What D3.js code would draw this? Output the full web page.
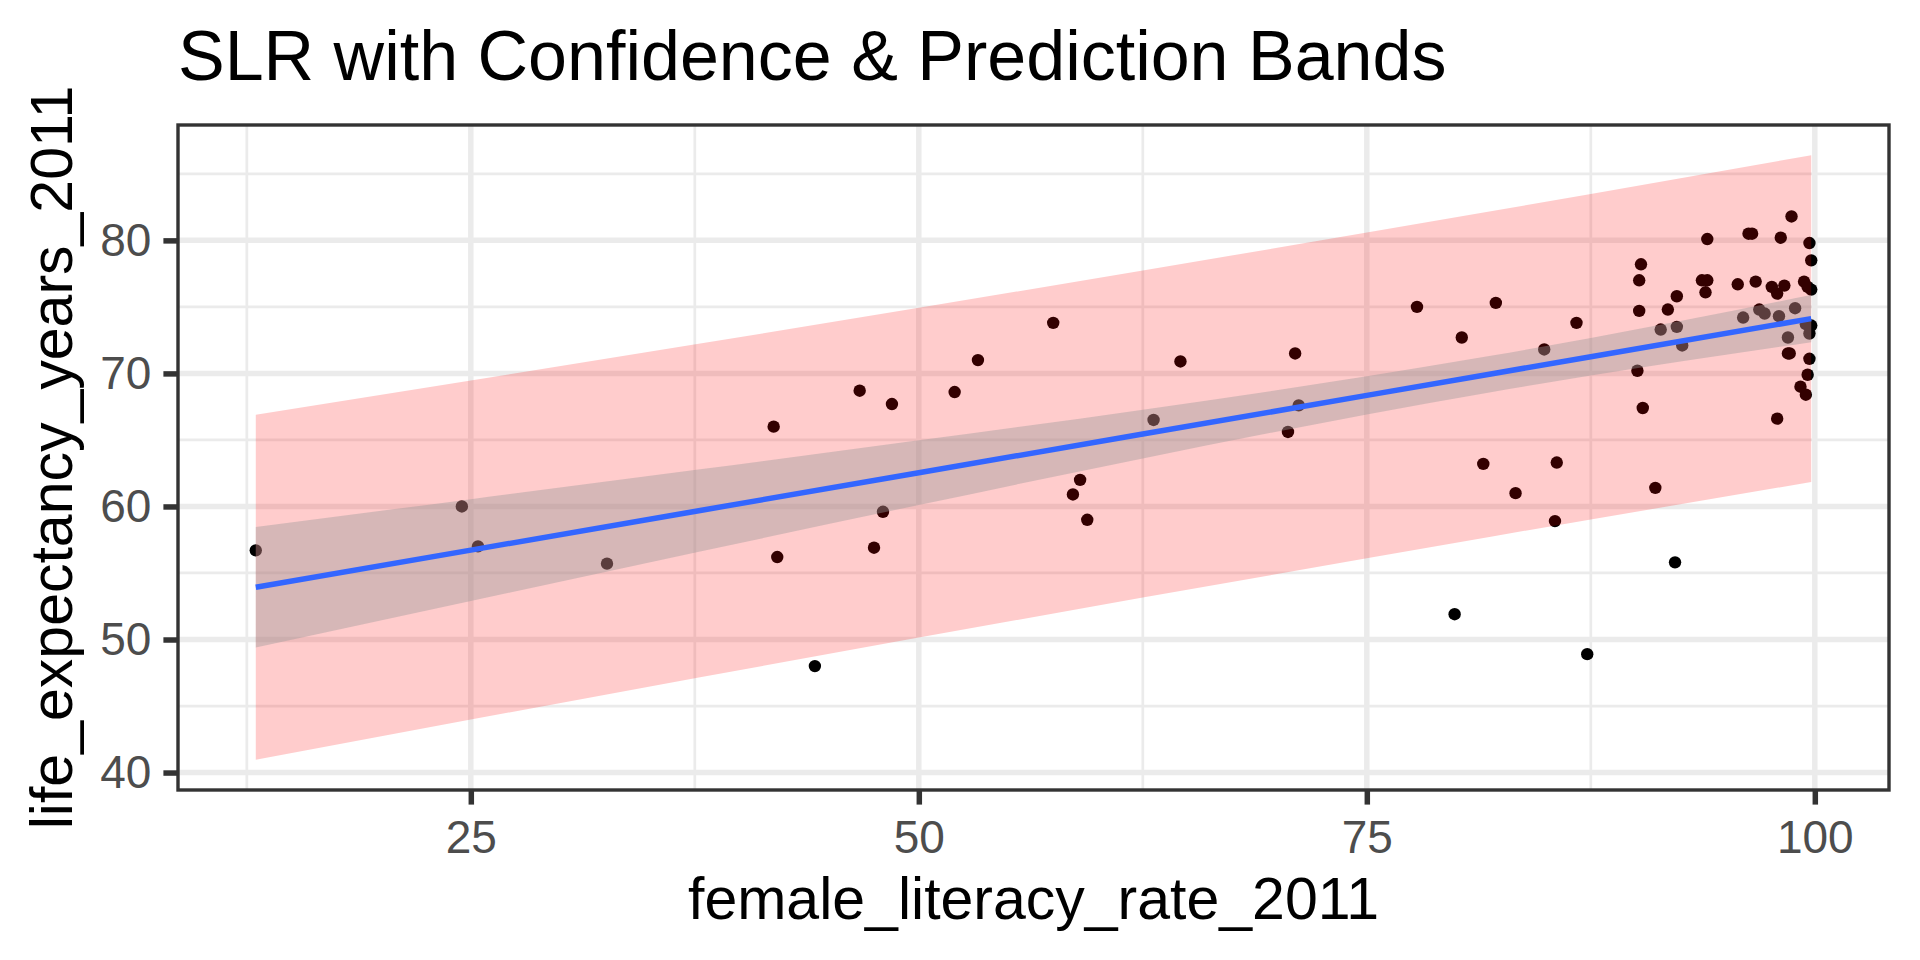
<!DOCTYPE html>
<html>
<head>
<meta charset="utf-8">
<script src="https://cdn.jsdelivr.net/npm/d3@7"></script>
<style>
  body { margin: 0; background: #fff; }
  text { font-family: 'Liberation Sans', Arial, Helvetica, sans-serif; }
</style>
</head>
<body>
<svg id="chart" width="1920" height="960"></svg>
<script>
// points: female literacy vs life expectancy (2011)
const literacy = [13.0, 24.5, 25.4, 32.6, 41.9, 42.1, 44.2, 46.7, 47.5, 48.0,
  48.5, 52.0, 53.3, 57.5, 58.6, 59.0, 59.4, 63.1, 64.6, 70.6,
  71.0, 71.2, 77.8, 79.9, 80.3, 81.5, 82.2, 83.3, 84.9, 85.6,
  85.5, 86.7, 87.3, 90.2, 90.1, 90.2, 90.3, 90.4, 91.1, 91.4,
  91.8, 92.2, 92.3, 92.3, 92.6, 93.7, 94.0, 93.9, 94.0, 95.7,
  96.0, 96.3, 96.5, 96.7, 96.9, 97.2, 97.6, 97.9, 97.9, 98.0,
  98.1, 98.3, 98.5, 98.5, 98.6, 98.7, 98.9, 99.2, 99.5, 99.6,
  99.7, 99.7, 99.8, 99.4, 99.6, 99.8, 99.8, 99.7, 99.5];
const lifeExp = [56.7, 60.0, 57.0, 55.7, 66.0, 56.2, 48.0, 68.7, 56.9, 59.6,
  67.7, 68.6, 71.0, 73.8, 60.9, 62.0, 59.0, 66.5, 70.9, 65.6,
  71.5, 67.6, 75.0, 51.9, 72.7, 63.2, 75.3, 61.0, 71.8, 63.3,
  58.9, 73.8, 48.9, 74.7, 70.2, 77.0, 78.2, 67.4, 61.4, 73.3,
  74.8, 55.8, 73.5, 75.8, 72.1, 77.0, 77.0, 76.1, 80.1, 76.7,
  74.2, 80.5, 80.5, 76.9, 74.8, 74.5, 76.5, 76.0, 66.6, 74.3,
  80.2, 76.6, 72.7, 71.5, 71.5, 81.8, 74.9, 69.0, 68.4, 69.9,
  71.1, 79.8, 78.5, 76.9, 76.5, 76.3, 73.6, 73.0, 73.7];

// fitted line with confidence and prediction bands, read at these x values
const bandX  = [13.0, 25, 37.8, 50, 62.5, 75, 82, 87.5, 99.8];
const fitY   = [53.93, 56.72, 59.70, 62.54, 65.44, 68.35, 69.98, 71.25, 74.12];
const ciLow  = [49.40, 52.89, 56.61, 60.11, 63.61, 66.92, 68.61, 69.84, 72.35];
const ciHigh = [58.46, 60.55, 62.79, 64.97, 67.27, 69.78, 71.34, 72.66, 75.89];
const piLow  = [40.96, 43.98, 47.16, 50.15, 53.15, 56.11, 57.75, 59.02, 61.84];
const piHigh = [66.90, 69.46, 72.24, 74.93, 77.73, 80.59, 82.21, 83.48, 86.40];

const xTicks = [25, 50, 75, 100];
const xMinor = [12.5, 37.5, 62.5, 87.5];
const yTicks = [40, 50, 60, 70, 80];
const yMinor = [45, 55, 65, 75, 85];

const margin = { left: 178, top: 125, right: 31, bottom: 170 };
const width = 1920;
const height = 960;
const innerWidth = width - margin.left - margin.right;
const innerHeight = height - margin.top - margin.bottom;

// ggplot-style 5% expansion
const expand = ext => {
  const pad = (ext[1] - ext[0]) * 0.05;
  return [ext[0] - pad, ext[1] + pad];
};

const xScale = d3.scaleLinear()
  .domain(expand(d3.extent(literacy)))
  .range([0, innerWidth]);

const yScale = d3.scaleLinear()
  .domain(expand([d3.min(piLow.concat(lifeExp)), d3.max(piHigh.concat(lifeExp))]))
  .range([innerHeight, 0]);

const svg = d3.select('#chart');
const body = svg.append('g')
  .attr('transform', 'translate(' + margin.left + ',' + margin.top + ')');

// grid
const grid = body.append('g');
grid.selectAll('.ymin').data(yMinor).enter().append('line')
  .attr('x1', 0).attr('x2', innerWidth)
  .attr('y1', d => yScale(d)).attr('y2', d => yScale(d))
  .attr('stroke', '#EBEBEB').attr('stroke-width', 2.75);
grid.selectAll('.xmin').data(xMinor).enter().append('line')
  .attr('y1', 0).attr('y2', innerHeight)
  .attr('x1', d => xScale(d)).attr('x2', d => xScale(d))
  .attr('stroke', '#EBEBEB').attr('stroke-width', 2.75);
grid.selectAll('.ymaj').data(yTicks).enter().append('line')
  .attr('x1', 0).attr('x2', innerWidth)
  .attr('y1', d => yScale(d)).attr('y2', d => yScale(d))
  .attr('stroke', '#EBEBEB').attr('stroke-width', 5.5);
grid.selectAll('.xmaj').data(xTicks).enter().append('line')
  .attr('y1', 0).attr('y2', innerHeight)
  .attr('x1', d => xScale(d)).attr('x2', d => xScale(d))
  .attr('stroke', '#EBEBEB').attr('stroke-width', 5.5);

// points
body.append('g')
  .selectAll('circle')
  .data(literacy)
  .enter()
  .append('circle')
  .attr('cx', d => xScale(d))
  .attr('cy', (d, i) => yScale(lifeExp[i]))
  .attr('r', 6.2)
  .attr('fill', '#000');

const bands = bandX.map((x, i) => ({
  x: x, fit: fitY[i], ciLow: ciLow[i], ciHigh: ciHigh[i], piLow: piLow[i], piHigh: piHigh[i]
}));

// prediction band
body.append('path')
  .datum(bands)
  .attr('d', d3.area().x(d => xScale(d.x)).y0(d => yScale(d.piLow)).y1(d => yScale(d.piHigh)))
  .attr('fill', 'red')
  .attr('fill-opacity', 0.2);

// confidence band
body.append('path')
  .datum(bands)
  .attr('d', d3.area().curve(d3.curveMonotoneX)
    .x(d => xScale(d.x)).y0(d => yScale(d.ciLow)).y1(d => yScale(d.ciHigh)))
  .attr('fill', '#999999')
  .attr('fill-opacity', 0.4);

// fitted line
body.append('path')
  .datum(bands)
  .attr('d', d3.line().x(d => xScale(d.x)).y(d => yScale(d.fit)))
  .attr('fill', 'none')
  .attr('stroke', '#3366FF')
  .attr('stroke-width', 5.5);

// panel border
body.append('rect')
  .attr('width', innerWidth)
  .attr('height', innerHeight)
  .attr('fill', 'none')
  .attr('stroke', '#333333')
  .attr('stroke-width', 3.4);

// axes
const xAxis = d3.axisBottom(xScale).tickValues(xTicks).tickSize(14.6).tickPadding(15.5);
const yAxis = d3.axisLeft(yScale).tickValues(yTicks).tickSize(14.6).tickPadding(12);

const gx = body.append('g')
  .attr('transform', 'translate(0,' + innerHeight + ')')
  .call(xAxis);
const gy = body.append('g').call(yAxis);

[gx, gy].forEach(g => {
  g.select('.domain').remove();
  g.selectAll('.tick line').attr('stroke', '#333333').attr('stroke-width', 5.5);
  g.selectAll('.tick text')
    .attr('fill', '#4D4D4D')
    .attr('font-size', 46)
    .attr('font-family', "'Liberation Sans', Arial, sans-serif");
});

// titles
svg.append('text')
  .text('SLR with Confidence & Prediction Bands')
  .attr('x', margin.left)
  .attr('y', 80)
  .attr('font-size', 70)
  .attr('fill', '#000');

svg.append('text')
  .text('female_literacy_rate_2011')
  .attr('x', margin.left + innerWidth / 2)
  .attr('y', 919)
  .attr('text-anchor', 'middle')
  .attr('font-size', 59)
  .attr('fill', '#000');

svg.append('text')
  .text('life_expectancy_years_2011')
  .attr('transform', 'translate(72,' + (margin.top + innerHeight / 2) + ') rotate(-90)')
  .attr('text-anchor', 'middle')
  .attr('font-size', 59)
  .attr('fill', '#000');
</script>
</body>
</html>
